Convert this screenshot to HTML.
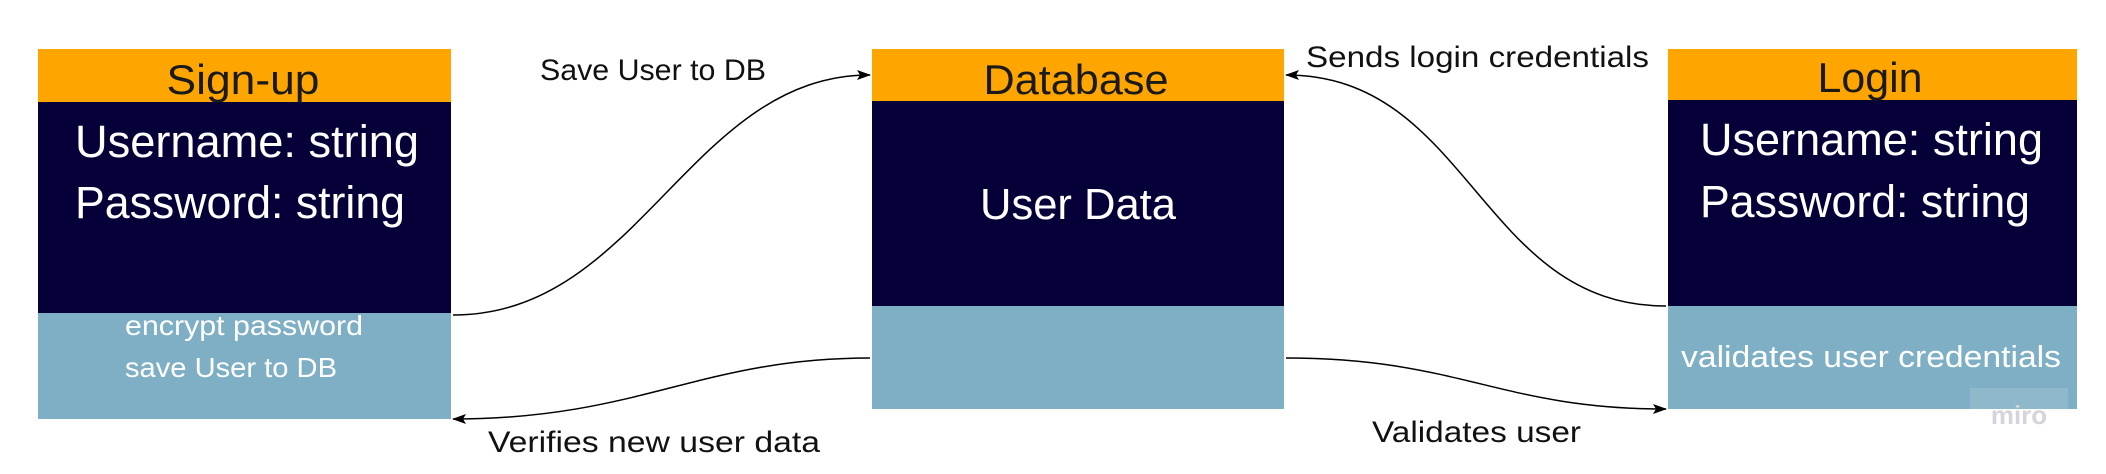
<!DOCTYPE html>
<html><head><meta charset="utf-8"><style>
html,body{margin:0;padding:0;background:#fff;}
body{width:2106px;height:474px;position:relative;overflow:hidden;font-family:"Liberation Sans","DejaVu Sans",sans-serif;}
svg{position:absolute;left:0;top:0;}
</style></head><body>
<svg width="2106" height="474" viewBox="0 0 2106 474" xmlns="http://www.w3.org/2000/svg">
<defs><marker id="a" markerWidth="14" markerHeight="10" refX="13" refY="5" orient="auto" markerUnits="userSpaceOnUse"><path d="M0,0 L14,5 L0,10 L3,5 Z" fill="#000"/></marker></defs>
<rect x="38" y="49" width="413" height="53" fill="#ffa500"/>
<rect x="38" y="102" width="413" height="211" fill="#050038"/>
<rect x="38" y="313" width="413" height="106" fill="#7eafc4"/>
<rect x="872" y="49" width="412" height="52" fill="#ffa500"/>
<rect x="872" y="101" width="412" height="205" fill="#050038"/>
<rect x="872" y="306" width="412" height="103" fill="#7eafc4"/>
<rect x="1668" y="49" width="409" height="51" fill="#ffa500"/>
<rect x="1668" y="100" width="409" height="206" fill="#050038"/>
<rect x="1668" y="306" width="409" height="103" fill="#7eafc4"/>
<rect x="1970" y="388" width="98" height="21" fill="#8fb8cb"/>
<text x="2019" y="424" font-size="26" fill="#d4d4dc" text-anchor="middle" font-weight="bold">miro</text>

<g font-size="42" fill="#1a1a1a" text-anchor="middle">
<text x="243" y="94" textLength="153" lengthAdjust="spacingAndGlyphs">Sign-up</text>
<text x="1076" y="94" textLength="185" lengthAdjust="spacingAndGlyphs">Database</text>
<text x="1870" y="92" textLength="105" lengthAdjust="spacingAndGlyphs">Login</text>
</g>
<g font-size="45" fill="#fff">
<text x="75" y="157" textLength="344" lengthAdjust="spacingAndGlyphs">Username: string</text>
<text x="75" y="218" textLength="330" lengthAdjust="spacingAndGlyphs">Password: string</text>
<text x="1700" y="155" textLength="343" lengthAdjust="spacingAndGlyphs">Username: string</text>
<text x="1700" y="217" textLength="330" lengthAdjust="spacingAndGlyphs">Password: string</text>
<text x="1078" y="219" text-anchor="middle" font-size="44" textLength="196" lengthAdjust="spacingAndGlyphs">User Data</text>
</g>
<g fill="#fff" font-size="28">
<text x="125" y="335" textLength="238" lengthAdjust="spacingAndGlyphs">encrypt password</text>
<text x="125" y="377" textLength="212" lengthAdjust="spacingAndGlyphs">save User to DB</text>
<text x="1681" y="367" font-size="31" textLength="380" lengthAdjust="spacingAndGlyphs">validates user credentials</text>
</g>
<g fill="#111" font-size="30">
<text x="540" y="80" textLength="226" lengthAdjust="spacingAndGlyphs">Save User to DB</text>
<text x="488" y="452" textLength="332" lengthAdjust="spacingAndGlyphs">Verifies new user data</text>
<text x="1306" y="67" textLength="343" lengthAdjust="spacingAndGlyphs">Sends login credentials</text>
<text x="1372" y="442" textLength="209" lengthAdjust="spacingAndGlyphs">Validates user</text>
</g>
<g fill="none" stroke="#000" stroke-width="1.5">
<path d="M453,315 C640,315 690,75 870,75" marker-end="url(#a)"/>
<path d="M870,358 C700,358 640,419 453,419" marker-end="url(#a)"/>
<path d="M1666,306 C1480,306 1470,75 1286,75" marker-end="url(#a)"/>
<path d="M1286,358 C1460,358 1500,409 1666,409" marker-end="url(#a)"/>
</g>
</svg>
</body></html>
